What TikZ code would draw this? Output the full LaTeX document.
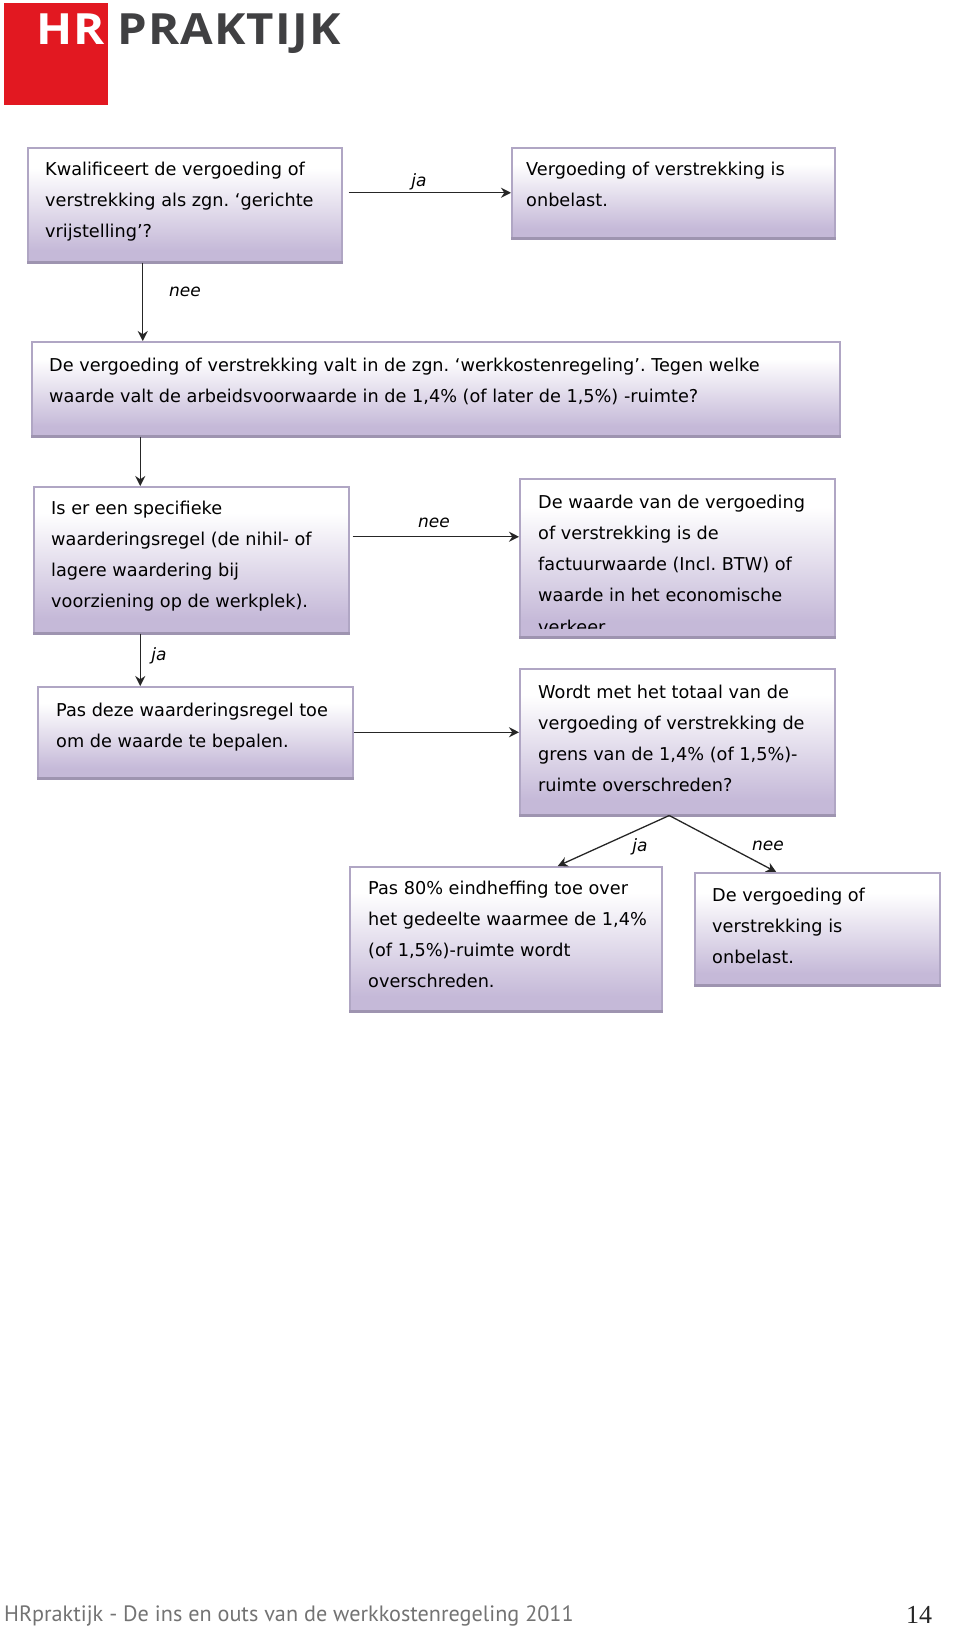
\documentclass[tikz,border=0pt]{standalone}
\usepackage{fontspec}
\setmainfont{DejaVu Sans}
\newfontfamily\logofont[LetterSpace=2.5]{Open Sans}
\newfontfamily\footfont{PT Sans}
\newfontfamily\numfont{Liberation Serif}
\usetikzlibrary{arrows.meta}
\definecolor{hrred}{RGB}{226,24,33}
\definecolor{hrgrey}{RGB}{64,64,66}
\definecolor{boxedge}{RGB}{176,166,196}
\definecolor{boxfoot}{RGB}{158,148,176}
\definecolor{boxlow}{RGB}{197,185,216}
\pgfdeclareverticalshading{boxfade}{100bp}{color(0bp)=(boxlow);color(30bp)=(boxlow);color(66bp)=(white);color(100bp)=(white)}
\tikzset{
	box/.style = {draw = boxedge, line width = 1.5pt, shading = boxfade, inner sep = 0pt, anchor = north west},
	boxtext/.style = {anchor = north west, align = left, inner sep = 0pt, font = \fontsize{17.7}{31.1}\selectfont\frenchspacing, text = black},
	answer/.style = {font = \fontsize{17}{20}\selectfont\itshape, inner sep = 0pt, text = black},
	link/.style = {-{Stealth[length = 10pt, width = 10pt]}, line width = 1.3pt, black!85},
	logotext/.style = {inner sep = 0pt, anchor = base west, font = \fontsize{43}{43}\selectfont\logofont\bfseries}
}
\newcommand{\flowbox}[4]{
	\node [box, minimum width = #3pt, minimum height = #4pt] (#1) at (#2) {};
	\draw [boxfoot, line width = 3pt] (#1.south west) -- (#1.south east);
}
\begin{document}
\begin{tikzpicture}[x = 1pt, y = -1pt]
	\useasboundingbox (0,0) rectangle (960,1628);
	% logo
	\fill [hrred] (4,3) rectangle (108,105);
	\node [logotext, text = white] (hr) at (36,44) {\scalebox{1.1}[1]{HR}};
	\node [logotext, text = hrgrey] (praktijk) at (117,44) {\scalebox{1.1}[1]{PRAKTIJK}};
	% boxes
	\flowbox{kwal}{27,147}{314}{114}
	\flowbox{onbelast}{511,147}{323}{90}
	\flowbox{regeling}{31,341}{808}{94}
	\flowbox{specifiek}{33,486}{315}{146}
	\flowbox{factuur}{519,478}{315}{158}
	\flowbox{toepassen}{37,686}{315}{91}
	\flowbox{totaal}{519,668}{315}{146}
	\flowbox{eindheffing}{349,866}{312}{144}
	\flowbox{vrij}{694,872}{245}{112}
	% box texts
	\node [boxtext] (kwaltxt) at (45,162) {Kwalificeert de vergoeding of\\verstrekking als zgn. ‘gerichte\\vrijstelling’?};
	\node [boxtext] (onbelasttxt) at (526,162) {Vergoeding of verstrekking is\\onbelast.};
	\node [boxtext] (regelingtxt) at (49,358) {De vergoeding of verstrekking valt in de zgn. ‘werkkostenregeling’. Tegen welke\\waarde valt de arbeidsvoorwaarde in de 1,4\% (of later de 1,5\%) -ruimte?};
	\node [boxtext] (specifiektxt) at (51,501) {Is er een specifieke\\waarderingsregel (de nihil- of\\lagere waardering bij\\voorziening op de werkplek).};
	\begin{scope}
		\clip (519,478) rectangle (834,628);
		\node [boxtext] (factuurtxt) at (538,495) {De waarde van de vergoeding\\of verstrekking is de\\factuurwaarde (Incl. BTW) of\\waarde in het economische\\verkeer.};
	\end{scope}
	\node [boxtext] (toepassentxt) at (56,703) {Pas deze waarderingsregel toe\\om de waarde te bepalen.};
	\node [boxtext] (totaaltxt) at (538,685) {Wordt met het totaal van de\\vergoeding of verstrekking de\\grens van de 1,4\% (of 1,5\%)-\\ruimte overschreden?};
	\node [boxtext] (eindheffingtxt) at (368,881) {Pas 80\% eindheffing toe over\\het gedeelte waarmee de 1,4\%\\(of 1,5\%)-ruimte wordt\\overschreden.};
	\node [boxtext] (vrijtxt) at (712,888) {De vergoeding of\\verstrekking is\\onbelast.};
	% connectors
	\draw [link, shorten <= 6pt] (kwal.east |- onbelast.west) -- (onbelast.west);
	\draw [link] ([xshift = -42pt]kwal.south) -- ([xshift = -42pt]kwal.south |- regeling.north);
	\draw [link] ([xshift = -51pt]specifiek.north |- regeling.south) -- ([xshift = -51pt]specifiek.north);
	\draw [link] ([xshift = -51pt]specifiek.south) -- ([xshift = -51pt]specifiek.south |- toepassen.north);
	\draw [link, shorten <= 3pt] ([yshift = 23pt]specifiek.east) -- ([yshift = 23pt]specifiek.east -| factuur.west);
	\draw [link] (toepassen.east) -- (toepassen.east -| totaal.west);
	\draw [link] ([xshift = -8pt]totaal.south) -- ([xshift = 52pt]eindheffing.north);
	\draw [link] ([xshift = -8pt]totaal.south) -- ([xshift = -41pt]vrij.north);
	% answers
	\node [answer] (ja1) at (419,182) {ja};
	\node [answer] (nee1) at (185,292) {nee};
	\node [answer] (nee2) at (434,523) {nee};
	\node [answer] (ja2) at (159,656) {ja};
	\node [answer] (ja3) at (640,847) {ja};
	\node [answer] (nee3) at (768,846) {nee};
	% footer
	\node [anchor = west, inner sep = 0pt, text = black!55, font = \fontsize{22.2}{24}\selectfont\footfont] (footer) at (4,1616) {HRpraktijk - De ins en outs van de werkkostenregeling 2011};
	\node [inner sep = 0pt, text = black!85, font = \fontsize{26}{28}\selectfont\numfont] (page) at (919,1615) {14};
\end{tikzpicture}
\end{document}
